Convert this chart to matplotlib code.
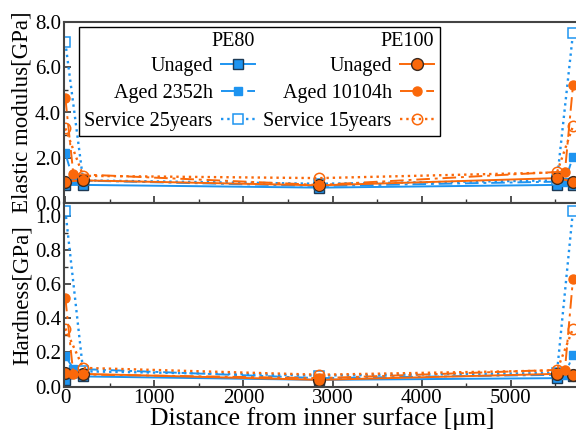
import numpy as np
import matplotlib
matplotlib.use("Agg")
import matplotlib.pyplot as plt
from matplotlib.lines import Line2D
from matplotlib.patches import Rectangle
from matplotlib.ticker import MultipleLocator, FormatStrFormatter

plt.rcParams['font.family'] = ['Liberation Serif', 'DejaVu Serif']

# distance from inner surface [um]
x_a = [0, 200, 2850, 5520, 5700]      # unaged / service points
x_b = [0, 90, 2850, 5610, 5700]       # aged points

# elastic modulus [GPa]
E_pe80_unaged = [0.8, 0.8, 0.68, 0.8, 0.8]
E_pe80_aged = [2.2, 1.0, 0.75, 0.95, 2.05]
E_pe80_service = [7.1, 1.0, 0.85, 1.0, 7.5]
E_pe100_unaged = [0.95, 1.0, 0.78, 1.1, 0.95]
E_pe100_aged = [4.65, 1.28, 0.8, 1.39, 5.2]
E_pe100_service = [3.3, 1.2, 1.1, 1.35, 3.4]

# hardness [GPa]
H_pe80_unaged = [0.04, 0.06, 0.04, 0.05, 0.06]
H_pe80_aged = [0.18, 0.105, 0.05, 0.07, 0.185]
H_pe80_service = [1.03, 0.09, 0.065, 0.08, 1.03]
H_pe100_unaged = [0.078, 0.075, 0.04, 0.075, 0.07]
H_pe100_aged = [0.52, 0.072, 0.05, 0.1, 0.63]
H_pe100_service = [0.34, 0.11, 0.07, 0.095, 0.34]

blue = '#1e94f0'
orange = '#fa680a'
dashdot = (0, (7, 2.5, 1.5, 2.5))

styles = {
    'pe80_unaged': dict(color=blue, ls='-', marker='s', ms=7.5, mfc=blue, mec='#1d3a55', lw=1.4),
    'pe80_aged': dict(color=blue, ls=dashdot, marker='s', ms=5.5, mfc=blue, mec=blue, lw=1.4),
    'pe80_service': dict(color=blue, ls=':', marker='s', ms=7, mfc='white', mec=blue, mew=1.1, lw=1.7),
    'pe100_unaged': dict(color=orange, ls='-', marker='o', ms=8.5, mfc=orange, mec='#3a2a20', lw=1.4),
    'pe100_aged': dict(color=orange, ls=dashdot, marker='o', ms=6.5, mfc=orange, mec=orange, lw=1.4),
    'pe100_service': dict(color=orange, ls=':', marker='o', ms=7.5, mfc='none', mec=orange, mew=1.1, lw=1.7),
}

fig = plt.figure(figsize=(5.76, 4.37), dpi=100)
ax1 = fig.add_axes([64 / 576, 1 - 203 / 437, 517 / 576, 181 / 437])
ax2 = fig.add_axes([64 / 576, 1 - 386.7 / 437, 517 / 576, 183.7 / 437])

def draw(ax, data):
    for key, xs, ys in data:
        ax.plot(xs, ys, **styles[key])

draw(ax1, [('pe80_unaged', x_a, E_pe80_unaged), ('pe80_aged', x_b, E_pe80_aged),
           ('pe80_service', x_a, E_pe80_service), ('pe100_unaged', x_a, E_pe100_unaged),
           ('pe100_aged', x_b, E_pe100_aged), ('pe100_service', x_a, E_pe100_service)])
draw(ax2, [('pe80_unaged', x_a, H_pe80_unaged), ('pe80_aged', x_b, H_pe80_aged),
           ('pe80_service', x_a, H_pe80_service), ('pe100_unaged', x_a, H_pe100_unaged),
           ('pe100_aged', x_b, H_pe100_aged), ('pe100_service', x_a, H_pe100_service)])

for ax in (ax1, ax2):
    ax.set_xlim(-15, 5790)
    ax.xaxis.set_major_locator(MultipleLocator(1000))
    ax.xaxis.set_minor_locator(MultipleLocator(500))
    ax.tick_params(which='both', direction='in', labelsize=15, color='#333333',
                   top=False, right=False, pad=2)
    ax.tick_params(which='major', length=5, width=1.2)
    ax.tick_params(which='minor', length=3, width=1)
    for s in ax.spines.values():
        s.set_color('#444444')
        s.set_linewidth(1.5)

ax1.set_ylim(0, 8.0)
ax1.yaxis.set_major_locator(MultipleLocator(2))
ax1.yaxis.set_minor_locator(MultipleLocator(1))
ax1.yaxis.set_major_formatter(FormatStrFormatter('%.1f'))
ax1.tick_params(labelbottom=False)

ax2.set_ylim(0, 1.074)
ax2.yaxis.set_major_locator(MultipleLocator(0.2))
ax2.yaxis.set_minor_locator(MultipleLocator(0.1))
ax2.yaxis.set_major_formatter(FormatStrFormatter('%.1f'))

ax1.set_ylabel('Elastic modulus[GPa]', fontsize=16.5)
ax2.set_ylabel('Hardness[GPa]', fontsize=16.5)
ax1.yaxis.set_label_coords(-0.06, 0.5)
ax2.yaxis.set_label_coords(-0.06, 0.5)
ax2.set_xlabel('Distance from inner surface [μm]', fontsize=18.5, labelpad=-1)

labels80 = ['Unaged', 'Aged 2352h', 'Service 25years']
labels100 = ['Unaged', 'Aged 10104h', 'Service 15years']
h80 = [Line2D([], [], **styles[k]) for k in ('pe80_unaged', 'pe80_aged', 'pe80_service')]
h100 = [Line2D([], [], **styles[k]) for k in ('pe100_unaged', 'pe100_aged', 'pe100_service')]

leg_kw = dict(frameon=False, markerfirst=False, fontsize=14.5, title_fontsize=14.5,
              alignment='right', handlelength=1.7, handletextpad=0.4,
              labelspacing=0.42, borderpad=0.1, borderaxespad=0)
leg1 = ax1.legend(h80, labels80, title='PE80', loc='upper right',
                  bbox_to_anchor=((257 - 64) / 517, (203 - 30) / 181), **leg_kw)
leg1._legend_box.sep = 4
ax1.add_artist(leg1)
leg2 = ax1.legend(h100, labels100, title='PE100', loc='upper right',
                  bbox_to_anchor=((436 - 64) / 517, (203 - 30) / 181), **leg_kw)
leg2._legend_box.sep = 4

# frame around both legend columns
fig.canvas.draw()
r = fig.canvas.get_renderer()
b1 = leg1.get_window_extent(r)
b2 = leg2.get_window_extent(r)
x0 = min(b1.x0, b2.x0) - 3
x1 = max(b1.x1, b2.x1) + 4
y0 = min(b1.y0, b2.y0) - 3
y1 = max(b1.y1, b2.y1) + 3
W, Hf = fig.bbox.width, fig.bbox.height
fig.patches.append(Rectangle((x0 / W, y0 / Hf), (x1 - x0) / W, (y1 - y0) / Hf,
                             transform=fig.transFigure, fill=False,
                             edgecolor='black', linewidth=1.0, zorder=5))

fig.savefig('out.png', dpi=100)
